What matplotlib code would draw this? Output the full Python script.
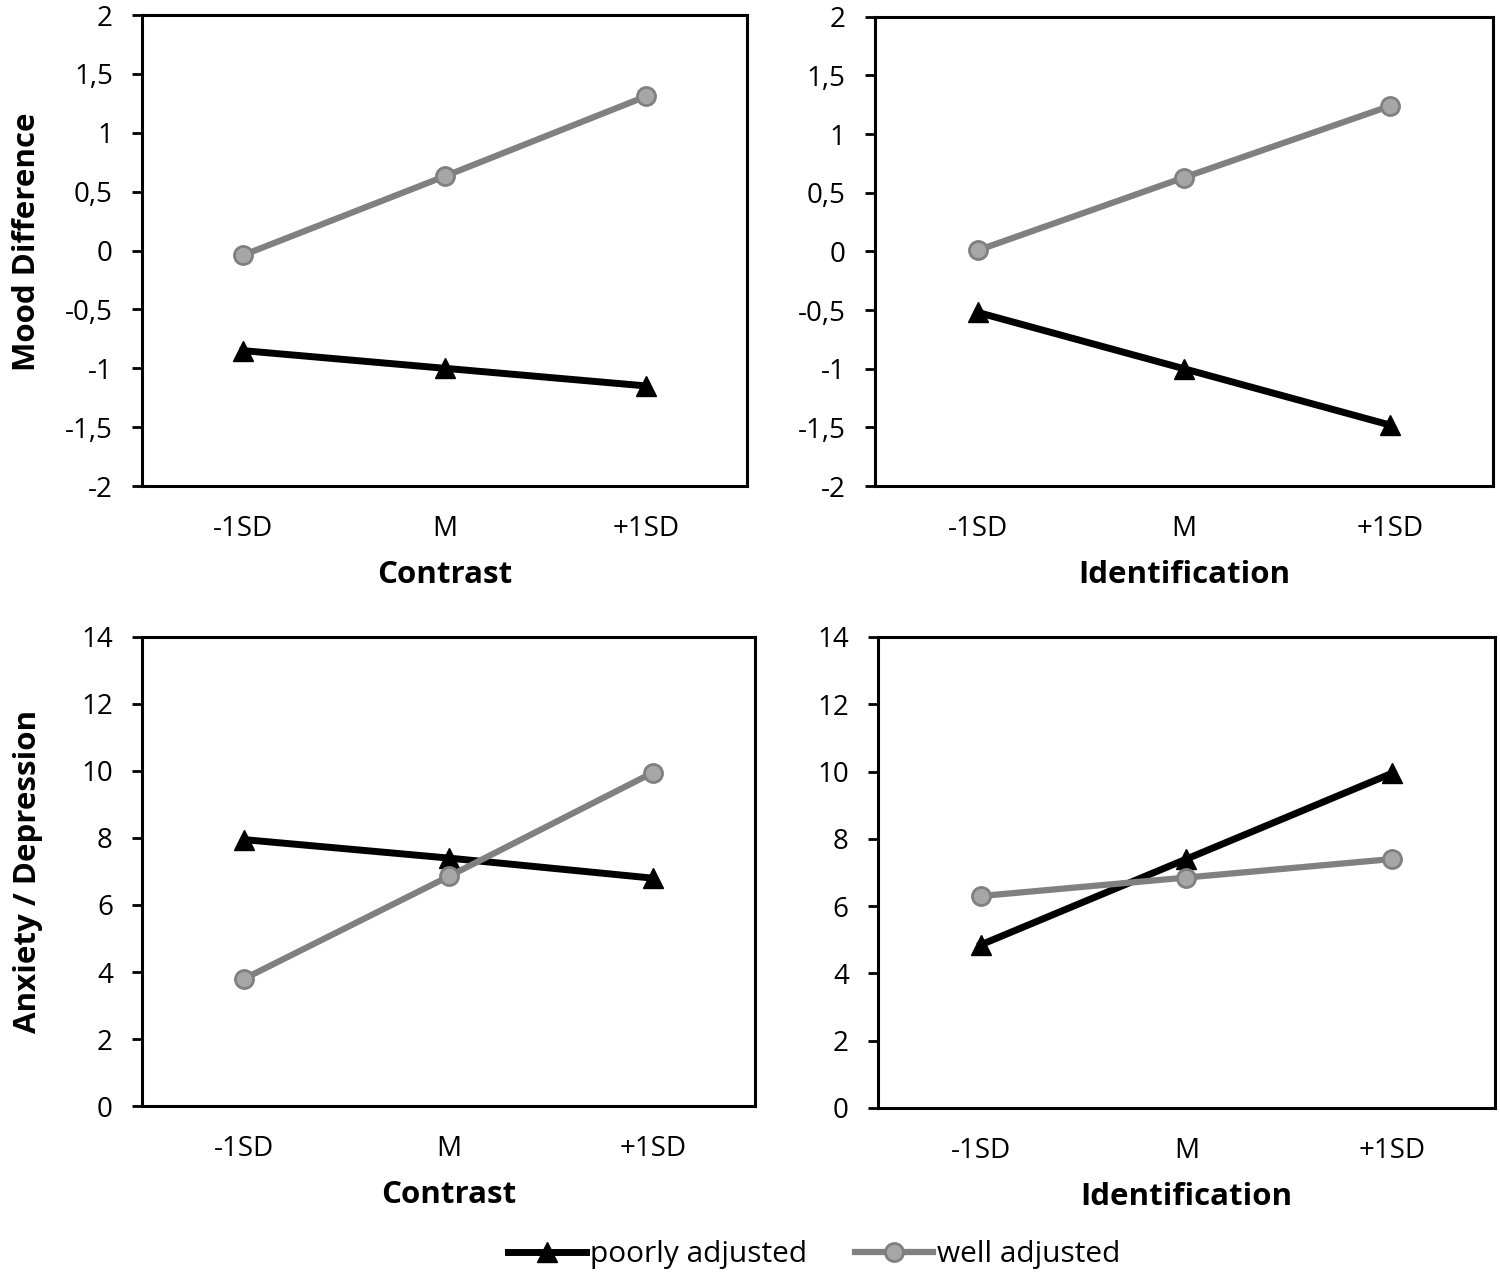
#!/usr/bin/env python3
import numpy as np
import matplotlib
matplotlib.use('Agg')
import matplotlib.pyplot as plt
from matplotlib.ticker import FuncFormatter
from matplotlib.lines import Line2D

plt.rcParams['font.family'] = ['Open Sans', 'DejaVu Sans']

# Data
levels = ['-1SD', 'M', '+1SD']
mood_contrast_poor = [-0.85, -1.0, -1.15]
mood_contrast_well = [-0.04, 0.63, 1.31]
mood_ident_poor = [-0.52, -1.0, -1.48]
mood_ident_well = [0.01, 0.63, 1.24]
anx_contrast_poor = [7.95, 7.4, 6.8]
anx_contrast_well = [3.8, 6.85, 9.95]
anx_ident_poor = [4.85, 7.4, 9.95]
anx_ident_well = [6.3, 6.85, 7.4]

mood_ticks = np.arange(-2, 2.01, 0.5)
anx_ticks = np.arange(0, 14.01, 2)

black = '#000000'
grey_line = '#808080'
grey_face = '#a6a6a6'

fig = plt.figure(figsize=(15, 12.75), dpi=100)

panels = [
    ([0.0947, 0.6188, 0.4033, 0.3694], mood_contrast_poor, mood_contrast_well,
     'Contrast', 'Mood Difference', mood_ticks, (-2, 2), (-0.166, 0.518)),
    ([0.5833, 0.6188, 0.4120, 0.3680], mood_ident_poor, mood_ident_well,
     'Identification', None, mood_ticks, (-2, 2), None),
    ([0.0947, 0.1325, 0.4087, 0.3680], anx_contrast_poor, anx_contrast_well,
     'Contrast', 'Anxiety / Depression', anx_ticks, (0, 14), (-0.162, 0.5)),
    ([0.5853, 0.1310, 0.4113, 0.3694], anx_ident_poor, anx_ident_well,
     'Identification', None, anx_ticks, (0, 14), None),
]

fmt = FuncFormatter(lambda v, p: ('%g' % v).replace('.', ','))

for rect, poor, well, xlab, ylab, yticks, ylim, ylpos in panels:
    ax = fig.add_axes(rect)
    x = np.arange(len(levels))
    ax.plot(x, poor, color=black, lw=5, marker='^', markersize=14,
            markerfacecolor=black, markeredgecolor=black, zorder=3)
    ax.plot(x, well, color=grey_line, lw=4.5, marker='o', markersize=13,
            markerfacecolor=grey_face, markeredgecolor=grey_line,
            markeredgewidth=2, zorder=3)
    ax.set_xlim(-0.5, 2.5)
    ax.set_ylim(*ylim)
    ax.set_yticks(yticks)
    ax.yaxis.set_major_formatter(fmt)
    ax.set_xticks(x)
    ax.set_xticklabels(levels)
    for s in ax.spines.values():
        s.set_linewidth(2.2)
    ax.tick_params(axis='y', length=7, width=2, pad=14, labelsize=20)
    ax.tick_params(axis='x', length=0, pad=21, labelsize=20)
    ax.set_xlabel(xlab, fontsize=22.5, fontweight='bold', labelpad=12)
    if ylab:
        ax.set_ylabel(ylab, fontsize=22.5, fontweight='bold')
        ax.yaxis.set_label_coords(*ylpos)

handles = [
    Line2D([], [], color=black, lw=5, marker='^', markersize=14),
    Line2D([], [], color=grey_line, lw=4.5, marker='o', markersize=13,
           markerfacecolor=grey_face, markeredgecolor=grey_line,
           markeredgewidth=2),
]
fig.legend(handles, ['poorly adjusted', 'well adjusted'], loc='center',
           bbox_to_anchor=(0.543, 0.016), ncol=2, frameon=False, fontsize=21.5,
           handlelength=2.6, handletextpad=0.15, columnspacing=1.6)

fig.savefig('out.png', dpi=100)
